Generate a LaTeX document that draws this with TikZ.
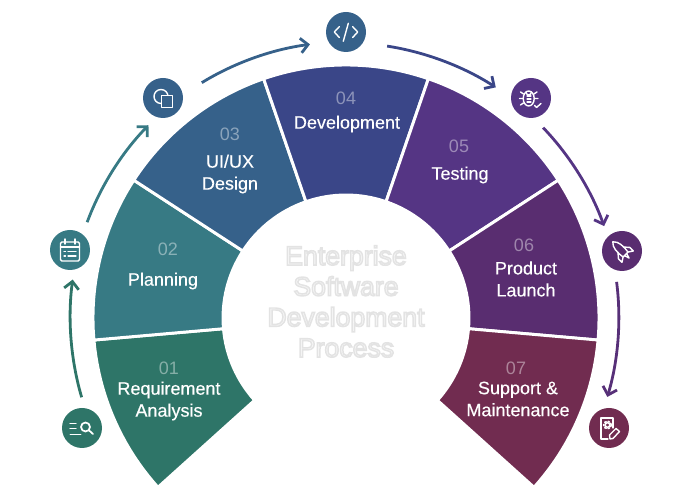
\documentclass[tikz,border=0pt]{standalone}
\usepackage{fontspec}
\setmainfont{Liberation Sans}
\newfontfamily\capfont[FakeBold=0.3]{Liberation Sans}
\usetikzlibrary{arrows.meta}
\usetikzlibrary{calc}
\definecolor{stepA}{HTML}{2E7568}
\definecolor{stepB}{HTML}{377A84}
\definecolor{stepC}{HTML}{36618A}
\definecolor{stepD}{HTML}{3A4688}
\definecolor{stepE}{HTML}{553584}
\definecolor{stepF}{HTML}{592D70}
\definecolor{stepG}{HTML}{712C50}
\newcommand{\labelsize}{\fontsize{13.5}{16.5}\selectfont}
\newcommand{\titlesize}{\fontsize{20}{23}\selectfont}
\newcommand{\haloon}{\special{pdf:code q 2 Tr 0.89 G 1.1 w}}
\newcommand{\halooff}{\special{pdf:code Q}}

\begin{document}
\begin{tikzpicture}[
    x=0.75pt, y=0.75pt,
    segment/.style={draw=white, line width=2.2pt, line join=bevel},
    flow/.style={line width=2.1pt, -{Straight Barb[length=5.5pt,width=11pt]}, bend left=12, looseness=0.85},
    badge/.style={circle, minimum size=30pt, inner sep=0pt},
    icon line/.style={white, line width=1.05pt, line cap=round, line join=round},
    number/.style={text=white, text opacity=0.42, font=\labelsize},
    caption/.style={text=white, font=\capfont\labelsize, align=center},
    heading/.style={font=\titlesize, align=center, text=black!3}
    ]
    \useasboundingbox (0,0) rectangle (693,498);

    % title
    \node[heading] (title) at (346,196.5) {\haloon Enterprise\\Software\\Development\\Process\halooff};

    % define centre, badges
    \coordinate (O) at (346,180);
    \node[badge, fill=stepA] (search) at (82,70) {};
    \node[badge, fill=stepB] (calendar) at (70,248) {};
    \node[badge, fill=stepC] (shapes) at (163,400) {};
    \node[badge, fill=stepC] (code) at (346,466) {};
    \node[badge, fill=stepE] (bug) at (531,400) {};
    \node[badge, fill=stepF] (rocket) at (622,247) {};
    \node[badge, fill=stepG] (gear) at (609,70) {};

    % segments
    \draw[segment, fill=stepA] ($(O)+(185:253)$) arc[start angle=185, end angle=222, radius=253] -- ($(O)+(222:123)$) arc[start angle=222, end angle=185, radius=123] -- cycle;
    \draw[segment, fill=stepB] ($(O)+(147:253)$) arc[start angle=147, end angle=185, radius=253] -- ($(O)+(185:123)$) arc[start angle=185, end angle=147, radius=123] -- cycle;
    \draw[segment, fill=stepC] ($(O)+(109:253)$) arc[start angle=109, end angle=147, radius=253] -- ($(O)+(147:123)$) arc[start angle=147, end angle=109, radius=123] -- cycle;
    \draw[segment, fill=stepD] ($(O)+(71:253)$) arc[start angle=71, end angle=109, radius=253] -- ($(O)+(109:123)$) arc[start angle=109, end angle=71, radius=123] -- cycle;
    \draw[segment, fill=stepE] ($(O)+(33:253)$) arc[start angle=33, end angle=71, radius=253] -- ($(O)+(71:123)$) arc[start angle=71, end angle=33, radius=123] -- cycle;
    \draw[segment, fill=stepF] ($(O)+(-5:253)$) arc[start angle=-5, end angle=33, radius=253] -- ($(O)+(33:123)$) arc[start angle=33, end angle=-5, radius=123] -- cycle;
    \draw[segment, fill=stepG] ($(O)+(-42:253)$) arc[start angle=-42, end angle=-5, radius=253] -- ($(O)+(-5:123)$) arc[start angle=-5, end angle=-42, radius=123] -- cycle;

    % arrows
    \coordinate (flowAs) at ($(O)+(196.7:276)$);
    \coordinate (flowAe) at ($(O)+(172:276)$);
    \coordinate (flowBs) at ($(O)+(159.7:276)$);
    \coordinate (flowBe) at ($(O)+(135.7:276)$);
    \coordinate (flowCs) at ($(O)+(121.5:276)$);
    \coordinate (flowCe) at ($(O)+(97.5:276)$);
    \coordinate (flowDs) at ($(O)+(81.4:275)$);
    \coordinate (flowDe) at ($(O)+(57:275)$);
    \coordinate (flowEs) at ($(O)+(44:274)$);
    \coordinate (flowEe) at ($(O)+(19.6:274)$);
    \coordinate (flowFs) at ($(O)+(7.6:273)$);
    \coordinate (flowFe) at ($(O)+(-16.8:273)$);
    \draw[flow, stepA] (flowAs) to (flowAe);
    \draw[flow, stepB] (flowBs) to (flowBe);
    \draw[flow, stepC] (flowCs) to (flowCe);
    \draw[flow, stepD] (flowDs) to (flowDe);
    \draw[flow, stepE] (flowEs) to (flowEe);
    \draw[flow, stepF!60!stepE] (flowFs) to (flowFe);

    % numbers, captions
    \node[number] (numA) at (169,130) {01};
    \node[caption] (capA) at (169,97) {Requirement\\Analysis};
    \node[number] (numB) at (168,249) {02};
    \node[caption] (capB) at (163,217) {Planning};
    \node[number] (numC) at (230,364) {03};
    \node[caption] (capC) at (230,324) {UI/UX\\Design};
    \node[number] (numD) at (346,400) {04};
    \node[caption] (capD) at (347,374) {Development};
    \node[number] (numE) at (459,352) {05};
    \node[caption] (capE) at (460,323) {Testing};
    \node[number] (numF) at (524,253) {06};
    \node[caption] (capF) at (526,219) {Product\\Launch};
    \node[number] (numG) at (516,130) {07};
    \node[caption] (capG) at (518,99) {Support \&\\Maintenance};

    % icon search
    \begin{scope}[shift={(search)}, yscale=-1]
      \draw[icon line] (-12,-4.5) -- (-6,-4.5) (-12,0.5) -- (-6,0.5);
      \draw[icon line, line width=0.7pt] (-12,6.5) -- (-1,6.5);
      \draw[icon line, line width=1.3pt] (3.5,-1) circle (4.5) (6.8,2.2) -- (11,6);
    \end{scope}
    % icon calendar
    \begin{scope}[shift={(calendar)}, yscale=-1]
      \draw[icon line, rounded corners=1pt] (-9.5,-8) rectangle (9.5,11);
      \draw[icon line] (-9.5,-3) -- (9.5,-3) (-5,-11) -- (-5,-6) (5,-11) -- (5,-6);
      \draw[icon line, line width=0.8pt] (-6,1.5) -- (-4.5,1.5) (-2,1.5) -- (6,1.5) (-6,6) -- (-4.5,6) (-2,6) -- (6,6);
    \end{scope}
    % icon shapes
    \begin{scope}[shift={(shapes)}, yscale=-1]
      \draw[icon line] (-2,-1.5) circle (7);
      \draw[icon line, fill=stepC] (-1.7,-2.7) rectangle (9.3,9.7);
    \end{scope}
    % icon code
    \begin{scope}[shift={(code)}, yscale=-1]
      \draw[icon line] (-6.7,-5.3) -- (-11.7,0) -- (-6.7,5.5);
      \draw[icon line] (6.7,-5.3) -- (11.7,0) -- (6.7,5.5);
      \draw[icon line] (2.3,-8.7) -- (-2.7,9.3);
    \end{scope}
    % icon bug
    \begin{scope}[shift={(bug)}, yscale=-1]
      \draw[icon line] (-2.3,0.5) ellipse (5.5 and 7.5);
      \draw[icon line] (-5,-6) arc[start angle=180, end angle=0, x radius=2.7, y radius=3];
      \draw[icon line] (-7.5,-4) -- (-10.5,-6) (-8,0.5) -- (-11.5,0.5) (-7.5,5) -- (-10.5,7) (3,-4) -- (6,-6) (3.5,0.5) -- (7,0.5);
      \draw[icon line, line width=0.8pt] (-4,-2) -- (0,-2) (-4,1) -- (0,1) (-4,4) -- (0,4);
      \draw[icon line] (3.5,7.5) -- (5.5,9.5) -- (10,5.5);
    \end{scope}
    % icon rocket
    \begin{scope}[shift={(rocket)}, yscale=-1, rotate=-45]
      \draw[icon line] (0,-13) .. controls (4.5,-9) and (4.5,-3) .. (3.5,5) -- (-3.5,5) .. controls (-4.5,-3) and (-4.5,-9) .. (0,-13) -- cycle;
      \draw[icon line] (-3.7,-2) -- (-8,3) -- (-8,8) -- (-3.5,5);
      \draw[icon line] (3.7,-2) -- (8,3) -- (8,8) -- (3.5,5);
      \draw[icon line] (-1.5,5) -- (0,10) -- (1.5,5);
    \end{scope}
    % icon gear
    \begin{scope}[shift={(gear)}, yscale=-1]
      \draw[icon line, line width=0.8pt] (-1,11) -- (-8,11) -- (-8,-10) -- (4,-10) -- (4,0);
      \draw[icon line] (-1.5,-3) circle (2.3);
      \draw[icon line, dashed, dash pattern=on 1.2pt off 1.5pt, line width=1.2pt] (-1.5,-3) circle (3.8);
      \draw[icon line] (1,11) -- (0.5,7) -- (7,0.5) -- (10.5,3.5) -- (4,10.5) -- cycle;
    \end{scope}

\end{tikzpicture}
\end{document}
